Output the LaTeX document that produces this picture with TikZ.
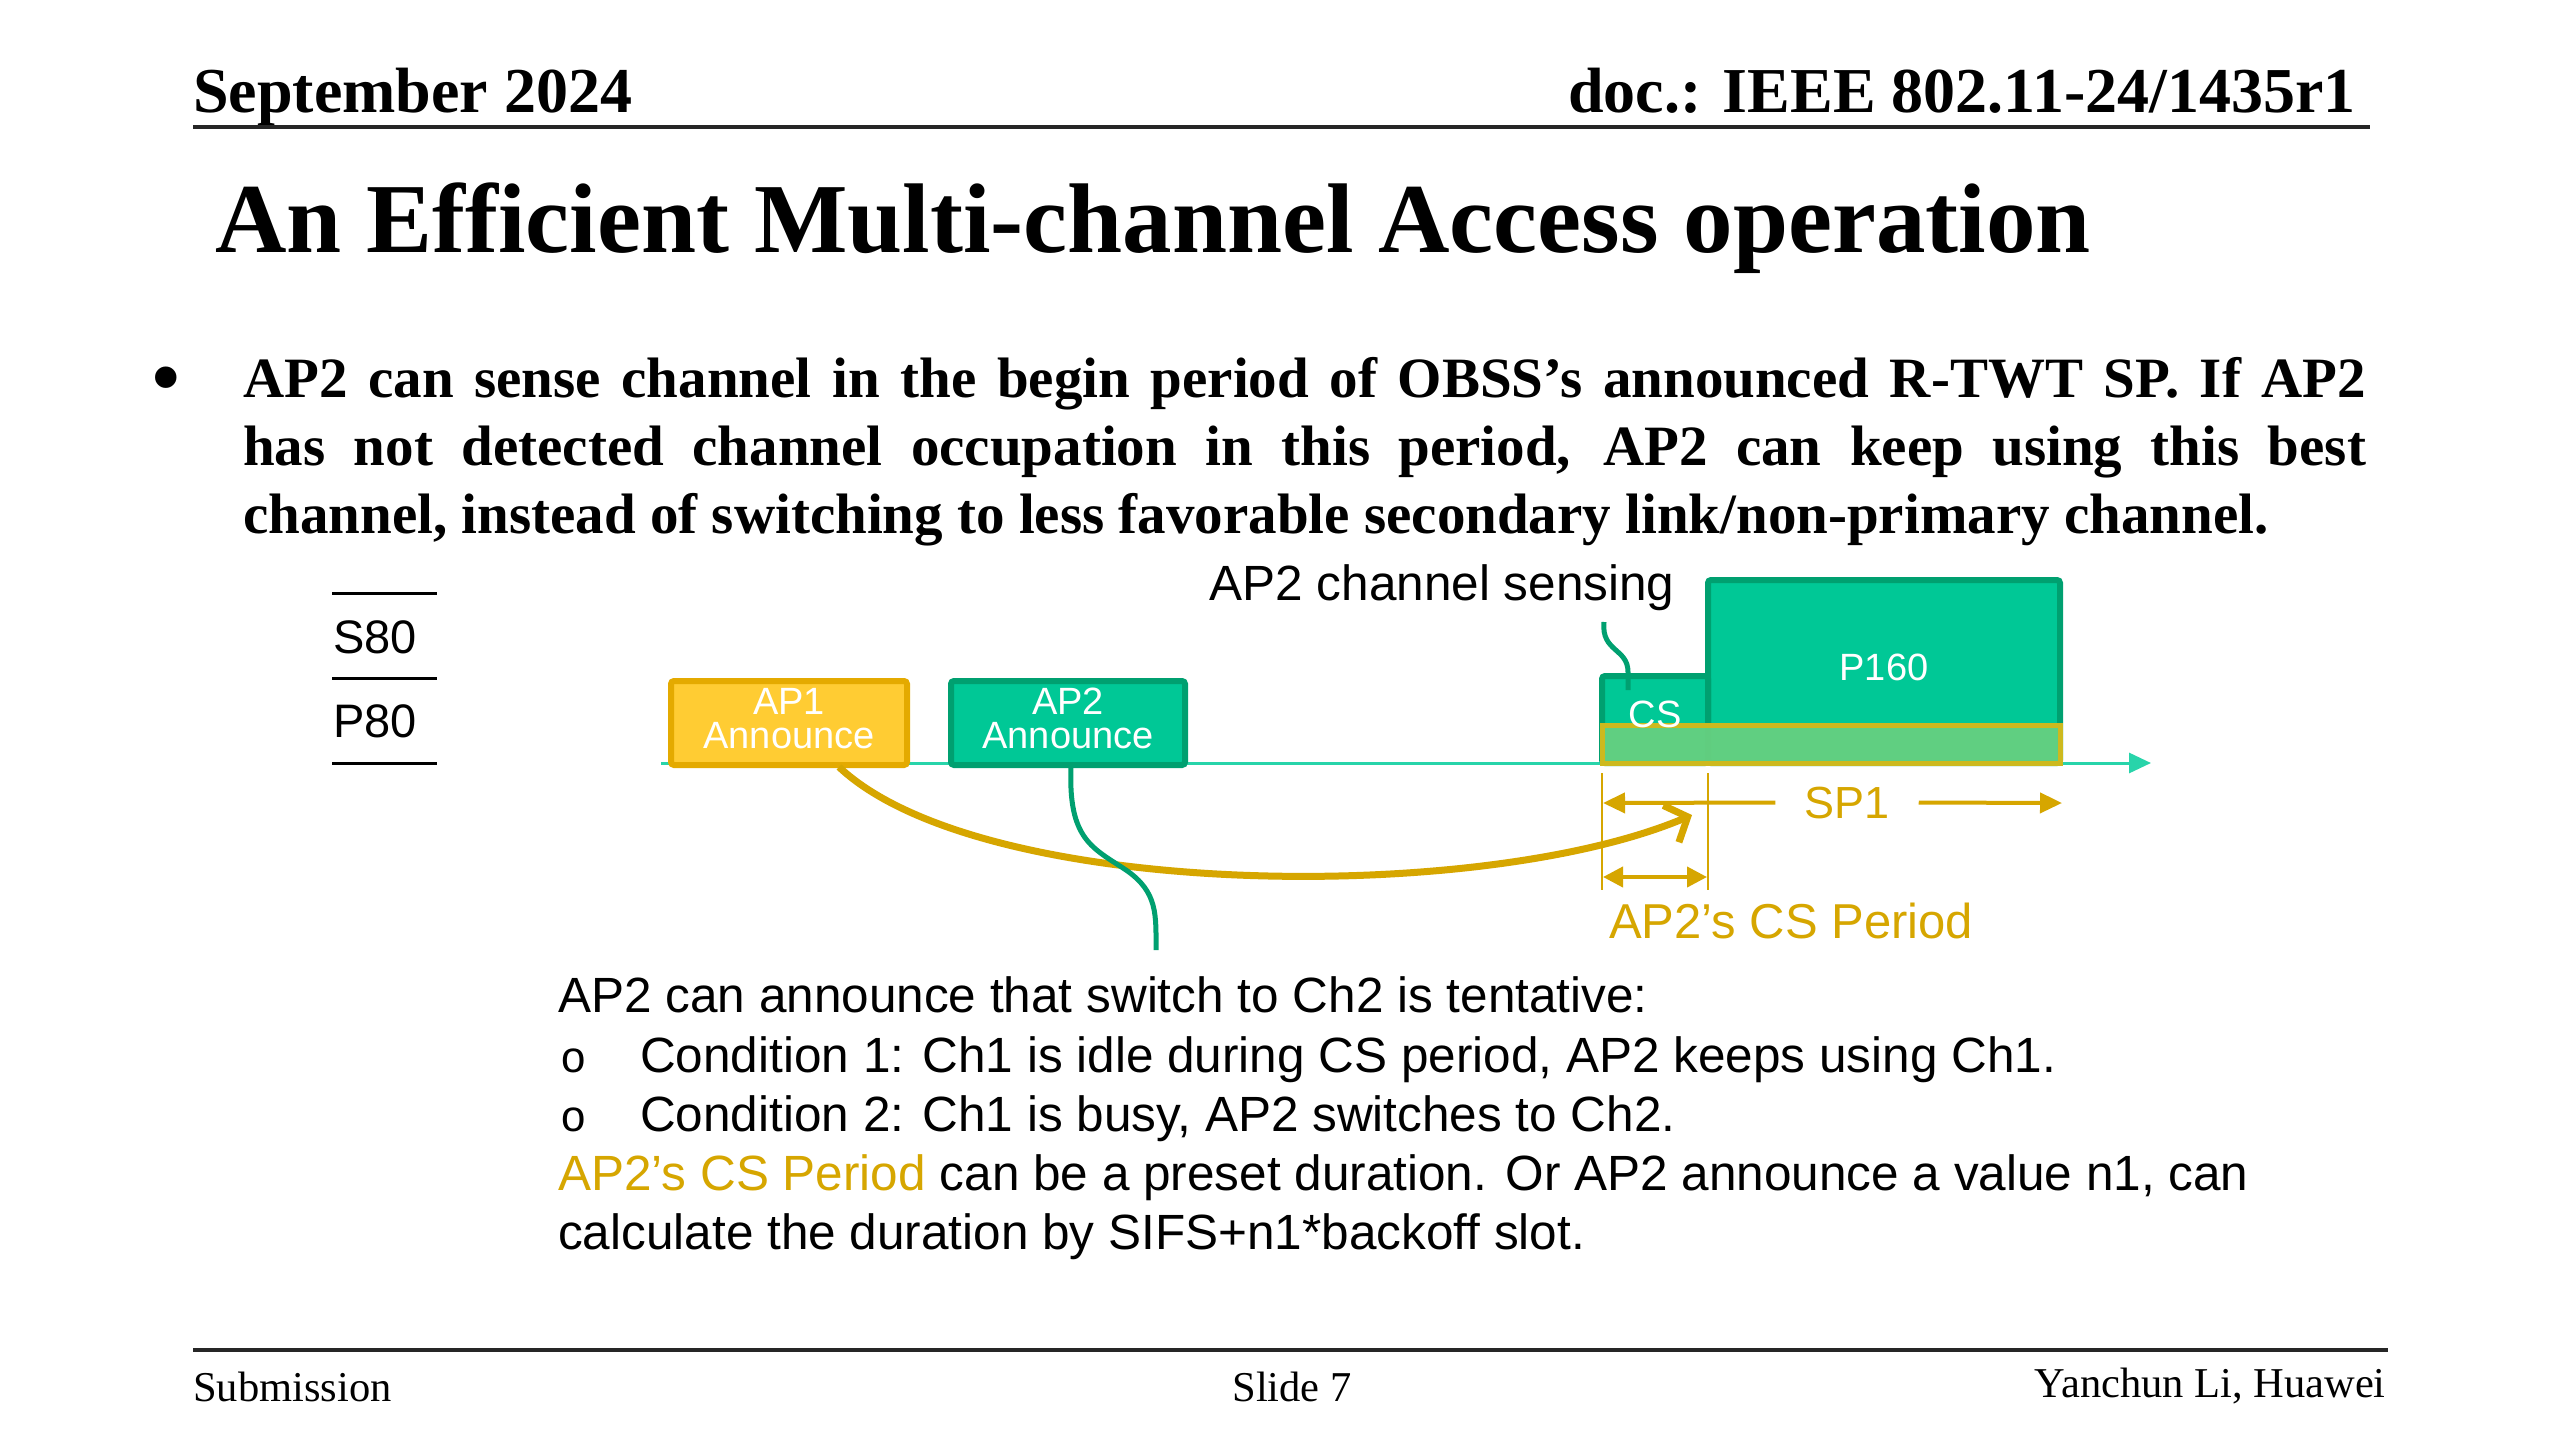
\documentclass[tikz,border=0pt]{standalone}
\usepackage{fontspec}
\setmainfont{Liberation Serif}
\newfontfamily\arial{Liberation Sans}
\newfontfamily\cour{Liberation Mono}
\usetikzlibrary{arrows.meta,calc}
\definecolor{grn}{RGB}{0,200,150}
\definecolor{grnd}{RGB}{0,160,112}
\definecolor{axisc}{RGB}{40,212,170}
\definecolor{yfill}{RGB}{255,204,51}
\definecolor{ydraw}{RGB}{228,170,0}
\definecolor{gold}{RGB}{214,166,0}
\definecolor{bandf}{RGB}{102,208,128}
\definecolor{bandd}{RGB}{205,185,30}
\tikzset{
  ybox/.style={draw=ydraw, fill=yfill, line width=6, rounded corners=3, inner sep=0, outer sep=0},
  gbox/.style={draw=grnd, fill=grn, line width=6, rounded corners=3, inner sep=0, outer sep=0},
  boxtxt/.style={font=\arial\fontsize{38}{38}\selectfont, text=white, inner sep=0, anchor=base},
  lbl/.style={font=\arial\fontsize{49.5}{59}\selectfont, inner sep=0, anchor=base west},
  goldline/.style={draw=gold, line width=4},
  gtip/.style={-{Triangle[length=22,width=20]}},
  hdr/.style={font=\bfseries\fontsize{64}{75}\selectfont, inner sep=0},
  ftr/.style={font=\fontsize{42.5}{50}\selectfont, inner sep=0},
  rule/.style={line width=4, draw=black!85},
}
\begin{document}
\begin{tikzpicture}[x=1pt,y=-1pt]
\useasboundingbox[fill=white] (0,0) rectangle (2560,1440);

% header
\node[hdr, anchor=base west] (date) at (193,112) {September 2024};
\node[hdr, anchor=base east] (doc) at (2356,112) {doc.: IEEE 802.11-24/1435r1};
\coordinate (hrL) at (193,127);
\coordinate (hrR) at (2370,127);
\draw[rule] (hrL) -- (hrR);

% title
\node[font=\bfseries\fontsize{99}{110}\selectfont, inner sep=0, anchor=base west] (title) at (215,252) {An Efficient Multi-channel Access operation};

% bullet paragraph
\node[font=\fontsize{90}{90}\selectfont, inner sep=0] (blt) at (166,387) {•};
\node[anchor=base west, text width=2123, align=justify, inner sep=0,
      font=\bfseries\fontsize{57}{68}\selectfont] (para) at (243,397)
 {AP2 can sense channel in the begin period of OBSS’s announced R-TWT SP. If AP2\linebreak
  has not detected channel occupation in this period, AP2 can keep using this best\linebreak
  channel, instead of switching to less favorable secondary link/non-primary channel.};

% S80 / P80 legend
\coordinate (l1a) at (332,593); \coordinate (l1b) at (437,593);
\coordinate (l2a) at (332,678); \coordinate (l2b) at (437,678);
\coordinate (l3a) at (332,763); \coordinate (l3b) at (437,763);
\draw[line width=3] (l1a) -- (l1b);
\draw[line width=3] (l2a) -- (l2b);
\draw[line width=3] (l3a) -- (l3b);
\node[font=\arial\fontsize{47}{50}\selectfont, inner sep=0, anchor=base west] (s80) at (333,653) {S80};
\node[font=\arial\fontsize{47}{50}\selectfont, inner sep=0, anchor=base west] (p80) at (333,737) {P80};

% time axis
\coordinate (axL) at (661,763);
\coordinate (axR) at (2151,763);
\draw[draw=axisc, line width=3, -{Triangle[length=22,width=20]}] (axL) -- (axR);

% boxes
\node[ybox, minimum width=236, minimum height=84] (ap1) at (789,723) {};
\node[gbox, minimum width=234, minimum height=84] (ap2) at (1068,723) {};
\node[gbox, minimum width=352, minimum height=183] (p160) at (1884,671.5) {};
\node[gbox, minimum width=106, minimum height=87] (cs) at (1655,719.5) {};
\node[draw=bandd, fill=bandf, line width=5, inner sep=0, minimum width=458, minimum height=38, fill opacity=0.95] (band) at (1831,744) {};

\node[boxtxt] (ap1a) at (789,714) {AP1};
\node[boxtxt] (ap1b) at (789,748) {Announce};
\node[boxtxt] (ap2a) at (1068,714) {AP2};
\node[boxtxt] (ap2b) at (1068,748) {Announce};
\node[boxtxt] (cst) at (1655,727) {CS};
\node[boxtxt] (p160t) at (1884,680) {P160};

% channel sensing label and wavy pointer
\node[lbl, anchor=base] (sens) at (1442,600) {AP2 channel sensing};
\coordinate (sensA) at (1604,622);
\coordinate (sensB) at (1628,690);
\draw[draw=grnd, line width=5] (sensA) .. controls (1601,652) and (1628,648) .. (1628,672) -- (sensB);

% curved gold arrow from AP1
\coordinate (ap1o) at ($(ap1.south)+(50,2)$);
\coordinate (tip) at (1692,815);
\draw[draw=gold, line width=7, -{Straight Barb[length=18,width=40]}] (ap1o) .. controls (980,900) and (1480,905) .. (tip);

% green wavy pointer from AP2
\coordinate (ap2o) at ($(ap2.south)+(3,2)$);
\coordinate (ap2e) at (1156,950);
\draw[draw=grnd, line width=5] (ap2o) .. controls (1068,840) and (1093,848) .. (1126,870) .. controls (1158,892) and (1156,915) .. (ap2e);

% SP1 and CS period markers
\coordinate (v1a) at (1602,773); \coordinate (v1b) at (1602,890);
\coordinate (v2a) at (1708,773); \coordinate (v2b) at (1708,890);
\draw[draw=gold, line width=2.5] (v1a) -- (v1b);
\draw[draw=gold, line width=2.5] (v2a) -- (v2b);
\node[font=\arial\fontsize{45}{50}\selectfont, text=gold, inner xsep=29, inner ysep=0, anchor=base] (sp1) at (1847,818) {SP1};
\coordinate (spL) at (1603,803);
\coordinate (spR) at (2062,803);
\draw[goldline, gtip] (sp1.west) -- (spL);
\draw[goldline, gtip] (sp1.east) -- (spR);
\coordinate (cpL) at (1603,877);
\coordinate (cpR) at (1707,877);
\draw[goldline, {Triangle[length=20,width=20]}-{Triangle[length=20,width=20]}] (cpL) -- (cpR);
\node[font=\arial\fontsize{49}{59}\selectfont, text=gold, inner sep=0, anchor=base west] (csp) at (1609,938) {AP2’s CS Period};

% explanatory text
\node[lbl] (t1) at (558,1012) {AP2 can announce that switch to Ch2 is tentative:};
\node[font=\cour\fontsize{44}{50}\selectfont, inner sep=0, anchor=base west] (b1) at (560,1072) {o};
\node[lbl] (t2) at (640,1072) {Condition 1: Ch1 is idle during CS period, AP2 keeps using Ch1.};
\node[font=\cour\fontsize{44}{50}\selectfont, inner sep=0, anchor=base west] (b2) at (560,1131) {o};
\node[lbl] (t3) at (640,1131) {Condition 2: Ch1 is busy, AP2 switches to Ch2.};
\node[lbl] (t4) at (558,1190) {{\color{gold}AP2’s CS Period} can be a preset duration. Or AP2 announce a value n1, can};
\node[lbl] (t5) at (558,1249) {calculate the duration by SIFS+n1*backoff slot.};

% footer
\coordinate (frL) at (193,1350);
\coordinate (frR) at (2388,1350);
\draw[rule] (frL) -- (frR);
\node[ftr, anchor=base west] (sub) at (193,1401) {Submission};
\node[ftr, anchor=base] (slide) at (1292,1401) {Slide 7};
\node[ftr, anchor=base east] (auth) at (2386,1397) {Yanchun Li, Huawei};
\end{tikzpicture}
\end{document}
